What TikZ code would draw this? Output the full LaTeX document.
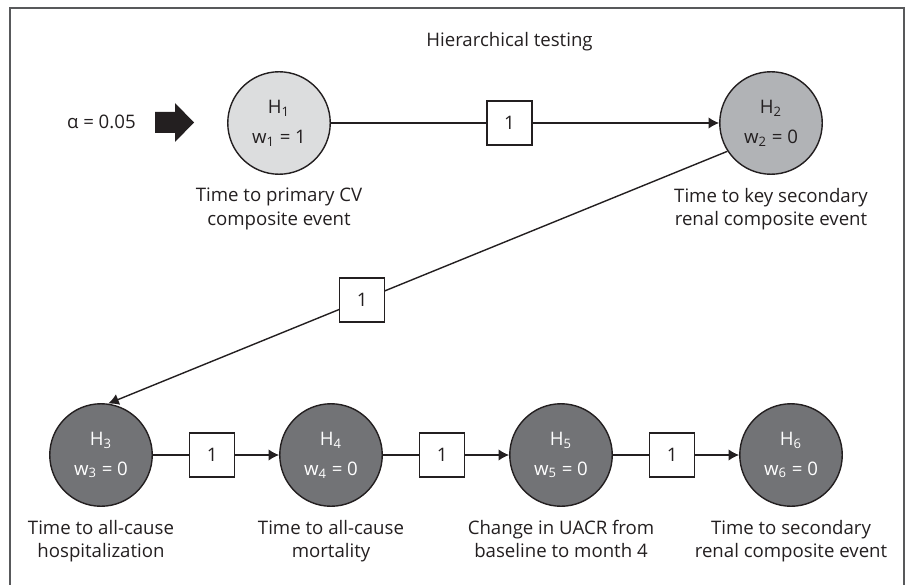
\documentclass[tikz,border=0pt]{standalone}
\usepackage{fontspec}
\setmainfont{Open Sans}
\usepackage{tikz}
\usetikzlibrary{arrows.meta,positioning}
\definecolor{inkcol}{HTML}{231F20}
\definecolor{framecol}{HTML}{58595B}
\definecolor{lightgrey}{HTML}{DCDDDE}
\definecolor{midgrey}{HTML}{B1B3B6}
\definecolor{darkgrey}{HTML}{727376}
\tikzset{>={Latex[length=6pt,width=6.5pt]}}
\tikzset{
  hyp/.style={circle, draw=inkcol, line width=0.8pt, minimum size=2.05cm, inner sep=0pt,
    align=center, text=inkcol, font=\fontsize{10.6}{17}\selectfont},
  wbox/.style={draw=inkcol, fill=white, line width=0.8pt, minimum width=0.9cm, minimum height=0.88cm,
    inner sep=0pt, text=inkcol, font=\fontsize{10.6}{13}\selectfont},
  desc/.style={align=center, inner sep=0pt, text=inkcol, font=\fontsize{10.6}{13.2}\selectfont},
  link/.style={->, draw=inkcol, line width=0.8pt}
}

\begin{document}
\begin{tikzpicture}[x=0.02cm, y=-0.02cm]
  \useasboundingbox (0,0) rectangle (911,584);
  \draw[framecol, line width=0.9pt] (10,600) -- (10,8) -- (904,8) -- (904,600);

  \node[desc] (title) at (509.5,42) {Hierarchical testing};

  \node[desc, anchor=east] (alpha) at (136,122) {α = 0.05};
  \fill[inkcol] (155,112) -- (175,112) -- (175,103) -- (194,122.5) -- (175,142) -- (175,133) -- (155,133) -- cycle;

  \node[hyp, fill=lightgrey] (h1) at (279,123) {H\textsubscript{1}\\w\textsubscript{1} = 1};
  \node[hyp, fill=midgrey] (h2) at (771,123) {H\textsubscript{2}\\w\textsubscript{2} = 0};

  \foreach \i/\x in {3/101,4/331,5/561,6/791}
  {
  \node[hyp, fill=darkgrey, text=white] (h\i) at (\x,455) {H\textsubscript{\i}\\w\textsubscript{\i} = 0};
  }

  \node[desc, below=0.26cm of h1] (d1) {Time to primary CV\\composite event};
  \node[desc, below=0.26cm of h2] (d2) {Time to key secondary\\renal composite event};
  \node[desc, below=0.26cm of h3] (d3) {Time to all-cause\\hospitalization};
  \node[desc, below=0.26cm of h4] (d4) {Time to all-cause\\mortality};
  \node[desc, below=0.26cm of h5] (d5) {Change in UACR from\\baseline to month 4};
  \node[desc, below=0.26cm of h6] (d6) {Time to secondary\\renal composite event};

  \draw[link] (h1) -- node[wbox, pos=0.46] (w12) {1} (h2);
  \draw[link] (h2.213) -- node[wbox, pos=0.59] (w23) {1} (h3.82);
  \foreach \i/\j in {3/4,4/5,5/6}
  {
  \draw[link] (h\i) -- node[wbox, pos=0.47] (w\i\j) {1} (h\j);
  }
\end{tikzpicture}
\end{document}
